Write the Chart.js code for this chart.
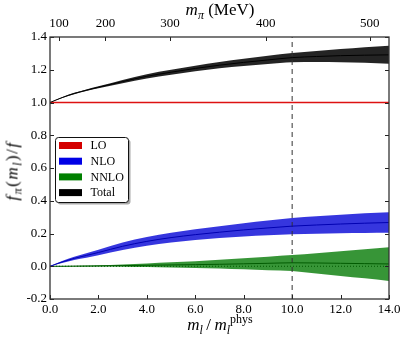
<!DOCTYPE html>
<html>
<head>
<meta charset="utf-8">
<script src="https://cdn.jsdelivr.net/npm/chart.js@4.4.0/dist/chart.umd.min.js"></script>
<style>
  body { margin: 0; background: #fff; }
  #wrap { position: relative; width: 407px; height: 345px; }
  .ttl { position: absolute; font-family: "Liberation Serif", "DejaVu Serif", serif; font-size: 17px; color: #000; white-space: nowrap; line-height: 1; }
  .ttl i { font-style: italic; }
  .ttl sub, .ttl sup { font-size: 12px; line-height: 0; }
</style>
</head>
<body>
<div id="wrap">
  <canvas id="grafico" width="407" height="345"></canvas>
  <div class="ttl" style="left:220px; top:1px; transform: translateX(-50%);"><i>m</i><sub><i>π</i></sub> (MeV)</div>
  <div class="ttl" style="left:220px; top:316px; transform: translateX(-50%);"><i>m<sub>l</sub></i>&thinsp;/&thinsp;<i>m</i><sub><i>l</i></sub><sup>phys</sup></div>
  <div class="ttl" style="left:12px; top:171px; letter-spacing: 1.5px; transform: translate(-50%, -50%) rotate(-90deg);"><i>f</i><sub><i>π</i></sub>(<i>m<sub>l</sub></i>)/<i>f</i></div>
</div>
<script>
// eixo x: m_l / m_l^phys
const xs = [0, 0.5, 1, 1.5, 2, 3, 4, 5, 6, 7, 8, 9, 10, 11, 12, 13, 14]

const totMid = [1, 1.030, 1.055, 1.075, 1.093, 1.128, 1.160, 1.185, 1.208, 1.228, 1.245, 1.260, 1.274, 1.281, 1.286, 1.289, 1.291]
const totHi  = [1, 1.032, 1.059, 1.080, 1.099, 1.138, 1.173, 1.200, 1.225, 1.247, 1.267, 1.285, 1.302, 1.315, 1.326, 1.337, 1.347]
const totLo  = [1, 1.028, 1.051, 1.070, 1.087, 1.118, 1.147, 1.170, 1.191, 1.209, 1.223, 1.235, 1.246, 1.247, 1.246, 1.242, 1.236]

const nloMid = [0, 0.026, 0.048, 0.066, 0.084, 0.122, 0.152, 0.175, 0.193, 0.208, 0.222, 0.234, 0.245, 0.252, 0.258, 0.263, 0.267]
const nloHi  = [0, 0.032, 0.058, 0.080, 0.101, 0.145, 0.179, 0.205, 0.226, 0.244, 0.262, 0.279, 0.295, 0.305, 0.314, 0.323, 0.330]
const nloLo  = [0, 0.020, 0.038, 0.052, 0.067, 0.099, 0.125, 0.145, 0.160, 0.172, 0.182, 0.189, 0.195, 0.199, 0.202, 0.203, 0.204]

const nnloMid = [0, 0, 0.001, 0.001, 0.002, 0.004, 0.006, 0.008, 0.010, 0.012, 0.015, 0.018, 0.021, 0.020, 0.018, 0.016, 0.014]
const nnloHi  = [0, 0.001, 0.002, 0.004, 0.006, 0.011, 0.017, 0.024, 0.031, 0.039, 0.049, 0.058, 0.068, 0.080, 0.092, 0.104, 0.116]
const nnloLo  = [0, -0.001, -0.001, -0.002, -0.002, -0.003, -0.005, -0.007, -0.010, -0.014, -0.019, -0.024, -0.029, -0.044, -0.059, -0.074, -0.090]

const loValor = 1.0
const linhaX = 10   // linha tracejada vertical

// eixo de cima: m_pi (MeV)
const topoPos = [0.37, 2.29, 4.96, 8.91, 13.2]
const topoLabels = ["100", "200", "300", "400", "500"]

const legNomes = ["LO", "NLO", "NNLO", "Total"]
const legCores = ["#d40000", "#0000e6", "#008000", "#000000"]

const pts = (ys) => xs.map((x, i) => ({x: x, y: ys[i]}))
const familia = "'Liberation Serif', 'DejaVu Serif', serif"
const fonte = {family: familia, size: 13}
const fmt = v => (Math.abs(v) < 1e-9 ? 0 : v).toFixed(1)

const linha = (ys, cor, w, extra) => Object.assign({
  data: pts(ys), borderColor: cor, borderWidth: w, pointRadius: 0, fill: false,
  cubicInterpolationMode: 'monotone'
}, extra || {})

const faixa = (ys, cor, fill) => ({
  data: pts(ys), borderWidth: 0, borderColor: 'rgba(0,0,0,0)', backgroundColor: cor,
  pointRadius: 0, fill: fill, cubicInterpolationMode: 'monotone'
})

const ticksDentro = {
  id: 'ticksDentro',
  afterDraw(chart) {
    const {ctx, chartArea: a, scales} = chart
    ctx.save()
    ctx.strokeStyle = '#222'
    ctx.lineWidth = 1
    ctx.beginPath()
    scales.x.ticks.forEach(t => {
      const p = Math.round(scales.x.getPixelForValue(t.value)) + 0.5
      ctx.moveTo(p, a.bottom); ctx.lineTo(p, a.bottom - 4)
    })
    scales.x2.ticks.forEach(t => {
      const p = Math.round(scales.x2.getPixelForValue(t.value)) + 0.5
      ctx.moveTo(p, a.top); ctx.lineTo(p, a.top + 4)
    })
    scales.y.ticks.forEach(t => {
      const p = Math.round(scales.y.getPixelForValue(t.value)) + 0.5
      ctx.moveTo(a.left, p); ctx.lineTo(a.left + 4, p)
      ctx.moveTo(a.right, p); ctx.lineTo(a.right - 4, p)
    })
    ctx.stroke()
    ctx.lineWidth = 1.3
    ctx.strokeStyle = '#333'
    ctx.strokeRect(a.left, a.top, a.right - a.left, a.bottom - a.top)
    ctx.restore()
  }
}

// legenda desenhada por cima das faixas, no meio do lado esquerdo
const legenda = {
  id: 'legenda',
  afterDatasetsDraw(chart) {
    const {ctx, chartArea: a} = chart
    const passo = 15.7, alt = 65, larg = 73
    const l = Math.round(a.left + 5) + 0.5
    const t = Math.round((a.top + a.bottom) / 2 - alt / 2 + 1) + 0.5
    ctx.save()
    ctx.fillStyle = '#aaa'
    ctx.beginPath(); ctx.roundRect(l + 2, t + 2, larg, alt, 3); ctx.fill()
    ctx.fillStyle = '#fff'
    ctx.strokeStyle = '#111'
    ctx.lineWidth = 1
    ctx.beginPath(); ctx.roundRect(l, t, larg, alt, 3); ctx.fill(); ctx.stroke()
    ctx.font = '12px ' + familia
    ctx.textBaseline = 'middle'
    legNomes.forEach((n, i) => {
      const cy = t + 8 + i * passo
      ctx.fillStyle = legCores[i]
      ctx.fillRect(l + 3.5, cy - 3.5, 23, 7)
      ctx.fillStyle = '#000'
      ctx.fillText(n, l + 35, cy + 0.5)
    })
    ctx.restore()
  }
}

new Chart(document.getElementById("grafico"), {
  type: 'line',
  data: {
    datasets: [
      linha(totMid, '#000000', 1),
      linha(nloMid, '#0000b0', 1),
      linha(nnloMid, '#005a00', 1),
      linha(xs.map(() => 0), '#005a00', 1, {borderDash: [1, 2]}),
      linha(xs.map(() => loValor), '#dd1111', 1.3),
      {data: [{x: linhaX, y: -0.2}, {x: linhaX, y: 1.4}], borderColor: '#333', borderWidth: 1,
       borderDash: [5, 4], pointRadius: 0, fill: false},
      faixa(totHi, 'rgba(0,0,0,0.86)', '+1'),
      faixa(totLo, 'rgba(0,0,0,0)', false),
      faixa(nloHi, 'rgba(10,10,215,0.82)', '+1'),
      faixa(nloLo, 'rgba(0,0,0,0)', false),
      faixa(nnloHi, 'rgba(20,130,20,0.85)', '+1'),
      faixa(nnloLo, 'rgba(0,0,0,0)', false)
    ]
  },
  options: {
    responsive: false,
    animation: false,
    layout: {padding: {right: 18}},
    plugins: {
      tooltip: {enabled: false},
      legend: {display: false}
    },
    scales: {
      x: {
        type: 'linear', position: 'bottom', min: 0, max: 14,
        grid: {display: false, drawTicks: false},
        border: {display: false},
        ticks: {stepSize: 2, padding: 3, color: '#000', font: fonte, maxRotation: 0,
                callback: fmt},
        afterFit: s => { s.height = 46 }
      },
      x2: {
        type: 'linear', position: 'top', min: 0, max: 14,
        grid: {display: false, drawTicks: false},
        border: {display: false},
        afterBuildTicks: s => { s.ticks = topoPos.map(v => ({value: v})) },
        ticks: {padding: 6, color: '#000', font: fonte, maxRotation: 0,
                callback: (v, i) => topoLabels[i]},
        afterFit: s => { s.height = 37 }
      },
      y: {
        type: 'linear', min: -0.2, max: 1.4,
        grid: {display: false, drawTicks: false},
        border: {display: false},
        ticks: {stepSize: 0.2, padding: 3, color: '#000', font: fonte,
                callback: fmt},
        afterFit: s => { s.width = 50 }
      }
    }
  },
  plugins: [legenda, ticksDentro]
})
</script>
</body>
</html>
